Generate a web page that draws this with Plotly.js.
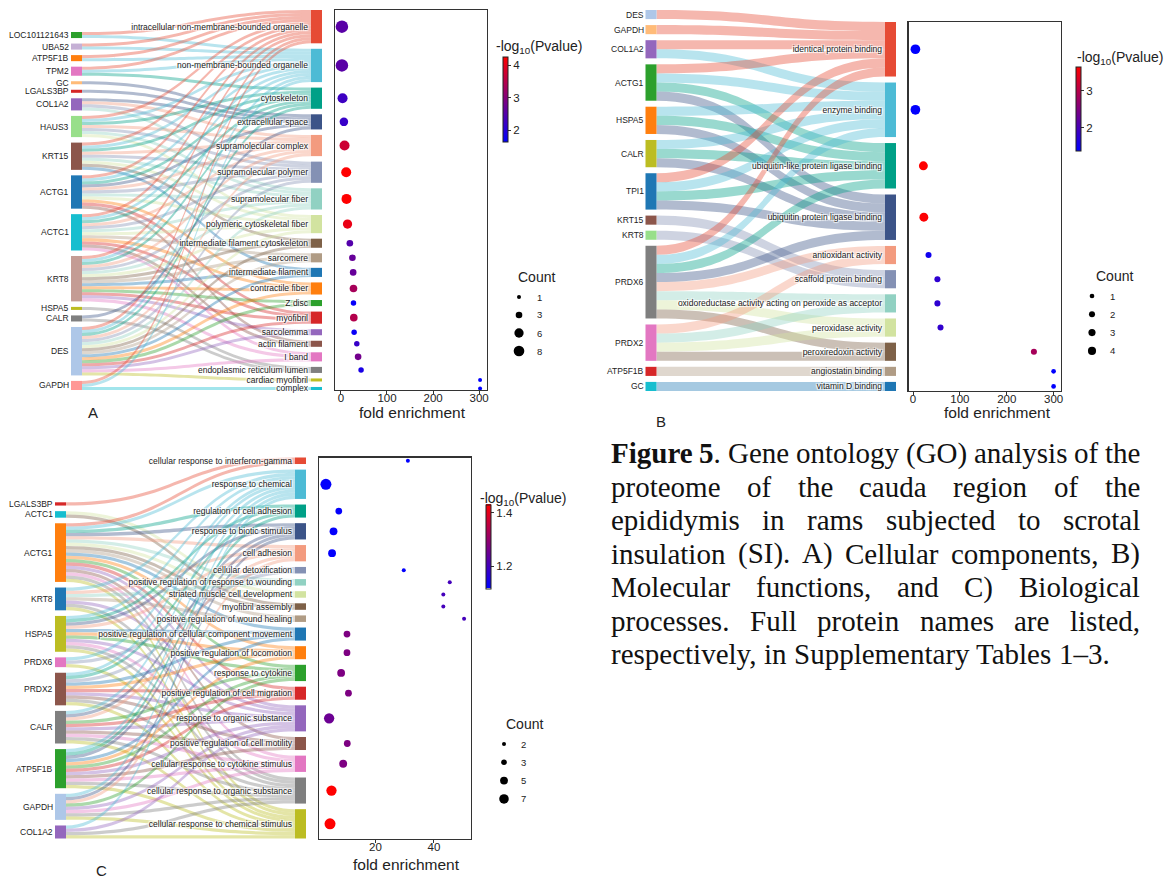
<!DOCTYPE html>
<html>
<head>
<meta charset="utf-8">
<script src="https://cdn.plot.ly/plotly-3.0.1.min.js"></script>
<style>
html,body{margin:0;padding:0;background:#fff;}
#chart{width:1176px;height:878px;}
</style>
</head>
<body>
<div id="chart"></div>
<script>
// ======================= DATA =======================
// Panel A – Cellular components
const A_genes = ["LOC101121643","UBA52","ATP5F1B","TPM2","GC","LGALS3BP","COL1A2","HAUS3","KRT15","ACTG1","ACTC1","KRT8","HSPA5","CALR","DES","GAPDH"];
const A_geneColors = ["#2CA02C","#C5B0D5","#FF7F0E","#E377C2","#FFBB78","#D62728","#9467BD","#98DF8A","#8C564B","#1F77B4","#17BECF","#C49C94","#BCBD22","#7F7F7F","#AEC7E8","#FF9896"];
const A_terms = ["intracellular non-membrane-bounded organelle","non-membrane-bounded organelle","cytoskeleton","extracellular space","supramolecular complex","supramolecular polymer","supramolecular fiber","polymeric cytoskeletal fiber","intermediate filament cytoskeleton","sarcomere","intermediate filament","contractile fiber","Z disc","myofibril","sarcolemma","actin filament","I band","endoplasmic reticulum lumen","cardiac myofibril","complex"];
// GO-term indices each protein belongs to
const A_members = [
  [0,1],[0,1],[0,1],[0,1,2],[3],[3],[3,4,5,6],
  [0,1,2,4,5,6,7],
  [0,1,2,4,5,6,7,8,10],
  [0,1,2,3,4,5,6,7,11,13,15],
  [0,1,2,4,5,6,7,9,11,13,15,16],
  [0,1,2,4,5,6,7,8,9,10,11,12,13,14,16],
  [17],[3,17],
  [0,1,2,4,5,6,7,8,9,10,11,12,13,14,16,18],
  [0,1,19]
];
const A_fold = [2.2,2.2,3.6,6.5,7.9,11.5,12.2,14.4,19.4,25,26.6,27.3,27.3,28,28.7,34.5,37.3,43.8,302,302];
const A_logp = [2.55,2.55,2.26,2.2,3.73,4.25,4.25,4.04,2.5,2.68,2.68,3.34,1.7,3.47,1.72,2.2,2.82,1.9,1.64,1.64];
const A_countLegend = [1,3,6,8];

// Panel B – Molecular functions
const B_genes = ["DES","GAPDH","COL1A2","ACTG1","HSPA5","CALR","TPI1","KRT15","KRT8","PRDX6","PRDX2","ATP5F1B","GC"];
const B_geneColors = ["#AEC7E8","#FFBB78","#9467BD","#2CA02C","#FF7F0E","#BCBD22","#1F77B4","#8C564B","#98DF8A","#7F7F7F","#E377C2","#D62728","#17BECF"];
const B_terms = ["identical protein binding","enzyme binding","ubiquitin-like protein ligase binding","ubiquitin protein ligase binding","antioxidant activity","scaffold protein binding","oxidoreductase activity acting on peroxide as acceptor","peroxidase activity","peroxiredoxin activity","angiostatin binding","vitamin D binding"];
const B_members = [[0],[0],[0,1],[0,1,2,3],[1,2,3],[1,2,3],[0,1,2,3],[5],[5],[0,1,2,3,4,6,7,8],[4,6,7,8],[9],[10]];
const B_fold = [5,5,22,23,33,52,52,58.6,258,300,300];
const B_logp = [1.36,1.38,3.65,3.62,1.5,1.77,1.77,1.8,2.85,1.36,1.37];
const B_countLegend = [1,2,3,4];

// Panel C – Biological processes
const C_genes = ["LGALS3BP","ACTC1","ACTG1","KRT8","HSPA5","PRDX6","PRDX2","CALR","ATP5F1B","GAPDH","COL1A2"];
const C_geneColors = ["#D62728","#17BECF","#FF7F0E","#1F77B4","#BCBD22","#E377C2","#8C564B","#7F7F7F","#2CA02C","#AEC7E8","#9467BD"];
const C_terms = ["cellular response to interferon-gamma","response to chemical","regulation of cell adhesion","response to biotic stimulus","cell adhesion","cellular detoxification","positive regulation of response to wounding","striated muscle cell development","myofibril assembly","positive regulation of wound healing","positive regulation of cellular component movement","positive regulation of locomotion","response to cytokine","positive regulation of cell migration","response to organic substance","positive regulation of cell motility","cellular response to cytokine stimulus","cellular response to organic substance","cellular response to chemical stimulus"];
const C_members = [
  [0],
  [7,8],
  [0,1,2,3,4,6,7,8,9,10,11,12,13,14,15,16,17,18],
  [1,4,6,9,14,17,18],
  [1,2,3,4,10,11,12,14,16,17,18],
  [1,5,18],
  [1,2,5,10,11,13,14,15,17,18],
  [1,3,4,12,13,14,15,16,17,18],
  [1,2,3,10,11,12,13,14,15,16,17,18],
  [1,3,4,12,14,16,17,18],
  [1,14,17,18]
];
const C_fold = [31.1,3.1,7.5,5.7,5.2,29.7,45.4,43.2,43.2,50.3,10.3,10.3,8.3,10.8,4.2,10.4,9.0,5.0,4.5];
const C_logp = [1.116,1.12,1.12,1.12,1.12,1.12,1.2,1.2,1.2,1.2,1.27,1.27,1.27,1.27,1.25,1.27,1.27,1.431,1.431];
const C_countLegend = [2,3,5,7];

const TERM_COLORS = ["#E64B35","#4DBBD5","#00A087","#3C5488","#F39B7F","#8491B4","#91D1C2","#D2E3A0","#7E6148","#B09C85","#1F77B4","#FF7F0E","#2CA02C","#D62728","#9467BD","#8C564B","#E377C2","#7F7F7F","#BCBD22","#17BECF"];

const CAPTION_LINES = [
  "Figure 5. Gene ontology (GO) analysis of the",
  "proteome of the cauda region of the",
  "epididymis in rams subjected to scrotal",
  "insulation (SI). A) Cellular components, B)",
  "Molecular functions, and C) Biological",
  "processes. Full protein names are listed,",
  "respectively, in Supplementary Tables 1–3."
];

// ======================= LAYOUT / STYLE =======================
const W = 1176, H = 878;
const px = v => v / W;
const py = v => 1 - v / H;
const FONT = "Liberation Sans, Arial, sans-serif";
const DOT_SCALE = [[0,"#0000FF"],[1,"#FF0000"]];

const PANELS = [
  { data:{genes:A_genes, geneColors:A_geneColors, terms:A_terms, members:A_members, fold:A_fold, logp:A_logp, legend:A_countLegend},
    id:"", letter:"A", letterPos:[93,413],
    sankey:{x0:71, x1:322, y0:10, y1:390, pad:5.5, thick:11},
    dot:{x0:335, x1:487, dtick:100, titleX:413, titleY:413},
    size:{dmin:4, dmax:12.5},
    cbar:{x:502.5, y0:57, y1:141.5, dtick:1, titleX:496, titleY:47},
    legend:{x:519, y:297, step:18, labelDx:18, titleX:536, titleY:277} },
  { data:{genes:B_genes, geneColors:B_geneColors, terms:B_terms, members:B_members, fold:B_fold, logp:B_logp, legend:B_countLegend},
    id:"2", letter:"B", letterPos:[661,421],
    sankey:{x0:645.5, x1:896, y0:10, y1:391, pad:6, thick:11},
    dot:{x0:908.5, x1:1060.5, dtick:100, titleX:997, titleY:413},
    size:{dmin:4.7, dmax:9.7},
    cbar:{x:1076, y0:67, y1:151, dtick:1, titleX:1076.5, titleY:58},
    legend:{x:1092, y:296, step:18.3, labelDx:18, titleX:1114, titleY:276} },
  { data:{genes:C_genes, geneColors:C_geneColors, terms:C_terms, members:C_members, fold:C_fold, logp:C_logp, legend:C_countLegend},
    id:"3", letter:"C", letterPos:[101,870],
    sankey:{x0:55, x1:306, y0:457.5, y1:838.5, pad:5.6, thick:11},
    dot:{x0:319, x1:471, dtick:20, titleX:406, titleY:864},
    size:{dmin:4, dmax:11},
    cbar:{x:486, y0:504.5, y1:588.5, dtick:0.2, titleX:479.5, titleY:499},
    legend:{x:504, y:744, step:18.3, labelDx:17, titleX:524.5, titleY:724} }
];

function rgba(hex, a) {
  const n = parseInt(hex.slice(1), 16);
  return `rgba(${(n>>16)&255},${(n>>8)&255},${n&255},${a})`;
}
function sum(a) { return a.reduce((s,v)=>s+v,0); }
function columnLayout(vals, ky, pad, height) {
  const total = sum(vals)*ky + (vals.length-1)*pad;
  let top = height - total;           // columns bottom aligned
  return vals.map(v => { const h = v*ky; const o = {top:top, h:h, c:top+h/2}; top += h + pad; return o; });
}
function sizeScale(counts, dmin, dmax) {
  const lo = Math.min(...counts), hi = Math.max(...counts);
  return n => Math.sqrt(dmin*dmin + (n-lo)/(hi-lo)*(dmax*dmax - dmin*dmin));
}
function ann(text, x, y, xanchor, size, extra) {
  return Object.assign({text:text, x:px(x), y:py(y), xref:"paper", yref:"paper", xanchor:xanchor, yanchor:"middle",
    showarrow:false, borderpad:0, borderwidth:0, font:{family:FONT, size:size, color:"#222"}}, extra||{});
}

const traces = [];
const annotations = [];
const layout = {
  width:W, height:H, margin:{l:0,r:0,t:0,b:0,pad:0},
  paper_bgcolor:"#ffffff", plot_bgcolor:"rgba(0,0,0,0)",
  showlegend:false, hovermode:false,
  font:{family:FONT, color:"#222"},
  annotations:annotations
};

// legend overlay (pixel coordinates)
const legX = [], legY = [], legS = [];

PANELS.forEach(P => {
  const D = P.data, S = P.sankey;
  const nG = D.genes.length, nT = D.terms.length;
  const geneVal = D.members.map(m => m.length);
  const termVal = D.terms.map((_, j) => D.members.filter(m => m.includes(j)).length);
  const Hs = S.y1 - S.y0, Ws = S.x1 - S.x0;
  const ky = Math.min((Hs - (nG-1)*S.pad)/sum(geneVal), (Hs - (nT-1)*S.pad)/sum(termVal));
  const gl = columnLayout(geneVal, ky, S.pad, Hs);
  const tl = columnLayout(termVal, ky, S.pad, Hs);

  const src = [], tgt = [], val = [], lcol = [];
  D.members.forEach((m, i) => m.forEach(j => {
    src.push(i); tgt.push(nG + j); val.push(1); lcol.push(rgba(TERM_COLORS[j], 0.4));
  }));

  traces.push({
    type:"sankey", arrangement:"snap",
    domain:{x:[px(S.x0), px(S.x1)], y:[py(S.y1), py(S.y0)]},
    node:{
      label: D.genes.map(() => " ").concat(D.terms),
      color: D.geneColors.concat(TERM_COLORS.slice(0, nT)),
      pad:S.pad, thickness:S.thick, line:{width:0}, hoverinfo:"none",
      x: gl.map(() => (S.thick/2)/Ws).concat(tl.map(() => 1 - (S.thick/2)/Ws)),
      y: gl.map(o => o.c/Hs).concat(tl.map(o => o.c/Hs))
    },
    link:{source:src, target:tgt, value:val, color:lcol, hoverinfo:"none", line:{width:0}},
    textfont:{family:FONT, size:8.5, color:"#222"}
  });

  // protein labels on the left of the left column
  D.genes.forEach((g, i) => annotations.push(ann(g, S.x0 - 2, S.y0 + gl[i].c, "right", 8.5)));

  // dot plot
  const sz = sizeScale(termVal, P.size.dmin, P.size.dmax);
  const xa = "x" + P.id, ya = "y" + P.id;
  traces.push({
    type:"scatter", mode:"markers", xaxis:xa, yaxis:ya,
    x:D.fold, y:tl.map(o => o.c), cliponaxis:false, hoverinfo:"skip",
    marker:{
      size:termVal.map(sz), opacity:1, color:D.logp, colorscale:DOT_SCALE, showscale:true, line:{width:0},
      colorbar:{
        x:px(P.cbar.x), xanchor:"left", xref:"paper",
        y:py(P.cbar.y0), yanchor:"top", yref:"paper",
        len:(P.cbar.y1 - P.cbar.y0)/H, lenmode:"fraction",
        thickness:5, thicknessmode:"pixels", xpad:0, ypad:0,
        outlinewidth:1, outlinecolor:"#222", borderwidth:0,
        tickmode:"linear", tick0:0, dtick:P.cbar.dtick,
        ticks:"outside", ticklen:3, tickwidth:1, tickcolor:"#333",
        tickfont:{family:FONT, size:11.5, color:"#222"},
        title:{text:""}
      }
    }
  });
  const fmin = Math.min(...D.fold), fmax = Math.max(...D.fold), span = fmax - fmin;
  const rTop = tl[0].top, rBot = tl[nT-1].top + tl[nT-1].h;
  layout["xaxis" + P.id] = {
    domain:[px(P.dot.x0), px(P.dot.x1)], range:[fmin - 0.05*span, fmax + 0.05*span], anchor:ya,
    showline:true, mirror:true, linecolor:"#333", linewidth:1.2,
    ticks:"outside", ticklen:3, tickcolor:"#333", tick0:0, dtick:P.dot.dtick,
    ticklabelstandoff:-6,
    tickfont:{family:FONT, size:11.5, color:"#222"}, showgrid:false, zeroline:false, fixedrange:true
  };
  layout["yaxis" + P.id] = {
    domain:[py(S.y0 + rBot), py(S.y0 + rTop)], range:[rBot, rTop], anchor:xa,
    showline:true, mirror:true, linecolor:"#333", linewidth:1.2,
    ticks:"", showticklabels:false, showgrid:false, zeroline:false, fixedrange:true
  };
  annotations.push(ann("fold enrichment", P.dot.titleX, P.dot.titleY, "center", 15.5));
  annotations.push(ann("-log<sub>10</sub>(Pvalue)", P.cbar.titleX, P.cbar.titleY, "left", 14));

  // size legend
  const L = P.legend;
  annotations.push(ann("Count", L.titleX, L.titleY, "center", 14));
  D.legend.forEach((n, k) => {
    legX.push(L.x); legY.push(L.y + k*L.step); legS.push(sz(n));
    annotations.push(ann(String(n), L.x + L.labelDx, L.y + k*L.step, "left", 9.5));
  });

  annotations.push(ann(P.letter, P.letterPos[0], P.letterPos[1], "center", 15));
});

traces.push({
  type:"scatter", mode:"markers", xaxis:"x4", yaxis:"y4", x:legX, y:legY, cliponaxis:false,
  hoverinfo:"skip", marker:{size:legS, opacity:1, color:"#000", line:{width:0}}
});
layout.xaxis4 = {domain:[0,1], range:[0,W], anchor:"y4", visible:false, fixedrange:true};
layout.yaxis4 = {domain:[0,1], range:[H,0], anchor:"x4", visible:false, fixedrange:true};

// ---------- caption: justified text, one annotation per word ----------
(function caption() {
  const ctx = document.createElement("canvas").getContext("2d");
  const fs = 29, fam = "'Liberation Serif'";
  const left = 611, right = 1140, top = 453, step = 33.5;
  const measure = (t, b) => { ctx.font = (b ? "bold " : "") + fs + "px " + fam; return ctx.measureText(t).width; };
  CAPTION_LINES.forEach((line, li) => {
    const words = line.split(" ");
    const parts = words.map((w, wi) => {
      if (li === 0 && wi < 2) {
        const core = w.replace(/\.$/, ""), tail = w.slice(core.length);
        return [{t:core, b:true}].concat(tail ? [{t:tail, b:false}] : []);
      }
      return [{t:w, b:false}];
    });
    const widths = parts.map(p => sum(p.map(q => measure(q.t, q.b))));
    const last = li === CAPTION_LINES.length - 1;
    const gap = last ? measure(" ", false) : (right - left - sum(widths)) / (words.length - 1);
    let x = left;
    parts.forEach((p, k) => {
      const html = p.map(q => q.b ? "<b>" + q.t + "</b>" : q.t).join("");
      annotations.push({text:html, x:px(x), y:py(top + li*step), xref:"paper", yref:"paper",
        xanchor:"left", yanchor:"middle", showarrow:false, borderpad:0, borderwidth:0,
        font:{family:"Liberation Serif, Times New Roman, serif", size:fs, color:"#111"}});
      x += widths[k] + gap;
    });
  });
})();

Plotly.newPlot("chart", traces, layout, {displayModeBar:false, staticPlot:true});
</script>
</body>
</html>
